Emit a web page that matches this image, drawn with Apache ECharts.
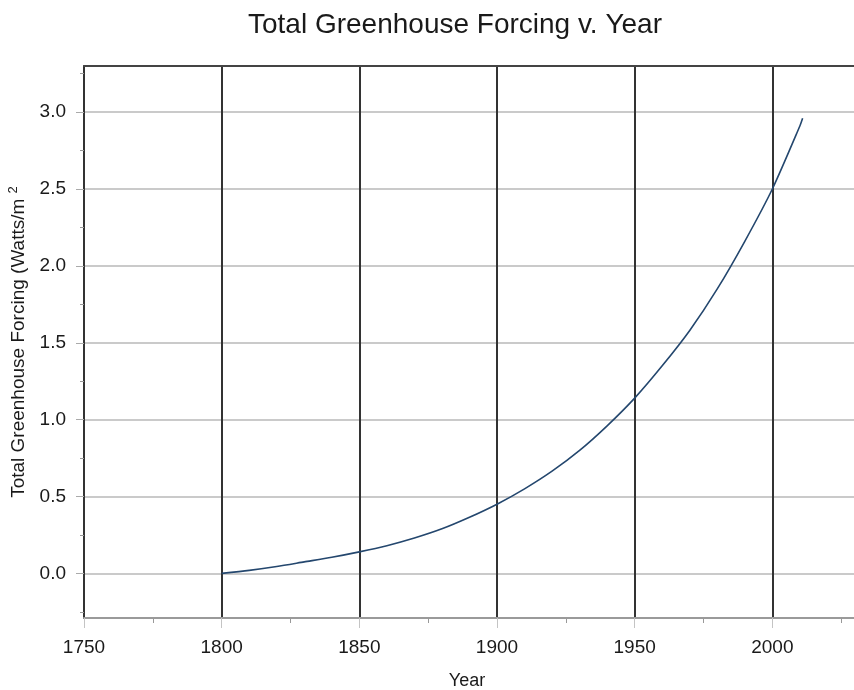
<!DOCTYPE html>
<html>
<head>
<meta charset="utf-8">
<script src="https://cdn.jsdelivr.net/npm/echarts@6/dist/echarts.min.js"></script>
<style>
  html, body { margin: 0; padding: 0; background: #fff; }
  #chart { width: 854px; height: 690px; }
</style>
</head>
<body>
<div id="chart"></div>
<script>
// values
var years = [1800, 1810, 1820, 1830, 1840, 1850, 1860, 1870, 1880, 1890, 1900,
             1910, 1920, 1930, 1940, 1950, 1960, 1970, 1980, 1990, 2000, 2010, 2011];
var forcing = [0.00, 0.02, 0.045, 0.075, 0.105, 0.14, 0.18, 0.23, 0.29, 0.365, 0.45,
               0.55, 0.665, 0.80, 0.96, 1.14, 1.35, 1.58, 1.85, 2.16, 2.50, 2.91, 2.96];
var yLabels = [0, 0.5, 1.0, 1.5, 2.0, 2.5, 3.0];
var yMinor = [-0.25, 0.25, 0.75, 1.25, 1.75, 2.25, 2.75, 3.25];

var font = 'Liberation Sans, Arial, Helvetica, sans-serif';
var chart = echarts.init(document.getElementById('chart'), null, {renderer: 'canvas'});

var points = years.map(function (y, i) { return [y, forcing[i]]; });

chart.setOption({
    backgroundColor: '#fff',
    animation: false,
    title: {
        text: 'Total Greenhouse Forcing v. Year',
        left: 450,
        top: 6,
        textAlign: 'center',
        textStyle: {fontFamily: font, fontSize: 28, fontWeight: 'normal', color: '#1a1a1a'}
    },
    // axis runs on past the right edge of the page, like the reference
    grid: {left: 84, top: 66, width: 826, height: 552, outerBoundsMode: 'none', containLabel: false},
    xAxis: [{
        type: 'value',
        min: 1750,
        max: 2050,
        interval: 50,
        name: 'Year',
        nameLocation: 'middle',
        nameGap: 54,
        nameTextStyle: {fontFamily: font, fontSize: 18, color: '#1a1a1a', padding: [0, 60, 0, 0]},
        axisLine: {show: true, onZero: false, lineStyle: {color: '#9a9a9a', width: 2}},
        axisTick: {show: true, length: 10, lineStyle: {color: '#c4c4c4'}},
        minorTick: {show: true, splitNumber: 2, length: 5, lineStyle: {color: '#999'}},
        axisLabel: {
            fontFamily: font, fontSize: 19, color: '#1a1a1a', margin: 20,
            formatter: function (v) { return String(v); }
        },
        splitLine: {show: true, lineStyle: {color: '#333', width: 2}}
    }, {
        type: 'value',
        position: 'top',
        min: 1750,
        max: 2050,
        axisLine: {show: true, onZero: false, lineStyle: {color: '#444', width: 2}},
        axisTick: {show: false},
        axisLabel: {show: false},
        splitLine: {show: false}
    }],
    yAxis: [{
        type: 'value',
        min: -0.29,
        max: 3.3,
        name: '{n|Total Greenhouse Forcing (Watts/m }{s|2}',
        nameLocation: 'middle',
        nameGap: 48,
        nameTextStyle: {
            fontFamily: font, color: '#1a1a1a',
            rich: {
                n: {fontFamily: font, fontSize: 19, color: '#1a1a1a'},
                s: {fontFamily: font, fontSize: 13, color: '#1a1a1a', padding: [0, 0, 12, 0]}
            }
        },
        axisLine: {show: true, onZero: false, lineStyle: {color: '#333', width: 2}},
        axisTick: {show: true, length: 8, customValues: yLabels, lineStyle: {color: '#aaa'}},
        axisLabel: {
            fontFamily: font, fontSize: 19, color: '#1a1a1a', margin: 18,
            customValues: yLabels,
            formatter: function (v) { return v.toFixed(1); }
        },
        splitLine: {show: true, lineStyle: {color: '#b8b8b8', width: 1.5}}
    }, {
        type: 'value',
        min: -0.29,
        max: 3.3,
        position: 'left',
        axisLine: {show: false},
        axisTick: {show: true, length: 4, customValues: yMinor, lineStyle: {color: '#999'}},
        axisLabel: {show: false},
        splitLine: {show: false}
    }],
    series: [{
        type: 'line',
        xAxisIndex: 0,
        yAxisIndex: 0,
        data: points,
        smooth: 0.25,
        showSymbol: false,
        lineStyle: {color: '#24476e', width: 1.6}
    }]
});
</script>
</body>
</html>
